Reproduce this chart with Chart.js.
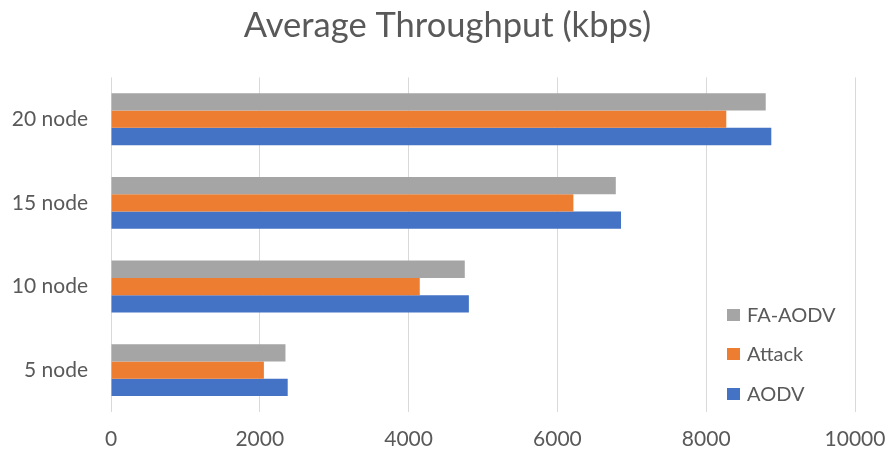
<!DOCTYPE html>
<html>
<head>
<meta charset="utf-8">
<script src="https://cdn.jsdelivr.net/npm/chart.js@4/dist/chart.umd.min.js"></script>
<style>
  html, body { margin: 0; padding: 0; background: #ffffff; }
  #wrap { width: 888px; height: 457px; }
</style>
</head>
<body>
<div id="wrap"><canvas id="c" width="888" height="457"></canvas></div>
<script>
// Network sizes, listed top to bottom as they appear on the axis
const categories = ['20 node', '15 node', '10 node', '5 node'];

// Average throughput in kbps per scenario
const faAodv = [8800, 6785, 4755, 2345];
const attack = [8270, 6215, 4150, 2055];
const aodv   = [8875, 6855, 4810, 2375];

const xTicks = [0, 2000, 4000, 6000, 8000, 10000];

const FONT = 'Lato, "Open Sans", sans-serif';
const TEXT = '#595959';

// Legend drawn inside the plot area, lower right
const innerLegend = {
  id: 'innerLegend',
  afterDatasetsDraw(chart) {
    const { ctx, chartArea } = chart;
    const x = chartArea.right - 128;
    const rows = [chartArea.bottom - 97, chartArea.bottom - 58, chartArea.bottom - 18];
    ctx.save();
    ctx.font = '20px ' + FONT;
    ctx.textBaseline = 'middle';
    ctx.textAlign = 'left';
    chart.data.datasets.forEach((ds, i) => {
      const y = rows[i];
      ctx.fillStyle = ds.backgroundColor;
      ctx.fillRect(x, y - 6, 13, 12);
      ctx.fillStyle = TEXT;
      ctx.fillText(ds.label, x + 20, y + 1);
    });
    ctx.restore();
  }
};

new Chart(document.getElementById('c'), {
  type: 'bar',
  data: {
    labels: categories,
    datasets: [
      { label: 'FA-AODV', data: faAodv, backgroundColor: '#A5A5A5' },
      { label: 'Attack',  data: attack, backgroundColor: '#ED7D31' },
      { label: 'AODV',    data: aodv,   backgroundColor: '#4472C4' }
    ]
  },
  plugins: [innerLegend],
  options: {
    indexAxis: 'y',
    responsive: false,
    animation: false,
    devicePixelRatio: 1,
    layout: { padding: { left: 11, right: 4, top: 0, bottom: 4 } },
    datasets: { bar: { barPercentage: 1.0, categoryPercentage: 0.62 } },
    plugins: {
      legend: { display: false },
      tooltip: { enabled: false },
      title: {
        display: true,
        text: 'Average Throughput (kbps)',
        color: TEXT,
        font: { family: FONT, size: 34.5, weight: 'normal' },
        padding: { top: 5, bottom: 31 }
      }
    },
    scales: {
      x: {
        min: 0,
        max: 10000,
        afterBuildTicks(scale) { scale.ticks = xTicks.map(v => ({ value: v })); },
        afterFit(scale) {
          scale.height = 41;
          scale.paddingLeft = 0;
          scale.paddingRight = 33;
        },
        grid: { color: '#D9D9D9', lineWidth: 1, drawTicks: false },
        border: { display: false },
        ticks: {
          color: TEXT,
          font: { family: FONT, size: 21 },
          padding: 15,
          maxRotation: 0,
          callback: (v) => String(v)
        }
      },
      y: {
        afterFit(scale) {
          scale.width = 100;
          scale.paddingTop = 0;
          scale.paddingBottom = 0;
        },
        grid: { display: false, drawTicks: false },
        border: { display: false },
        ticks: {
          color: TEXT,
          font: { family: FONT, size: 21 },
          padding: 23
        }
      }
    }
  }
});
</script>
</body>
</html>
